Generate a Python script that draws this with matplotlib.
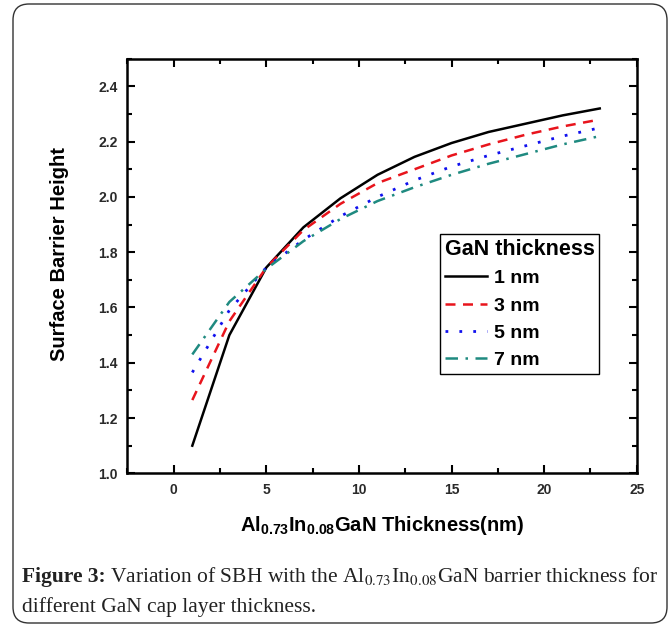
import matplotlib
matplotlib.use("Agg")
import matplotlib.pyplot as plt
from matplotlib.patches import FancyBboxPatch
from matplotlib.transforms import IdentityTransform
from matplotlib.ticker import MultipleLocator

# | Data |---------------------------------------------------------------------|
thickness = [1, 3, 5, 7, 9, 11, 13, 15, 17, 19, 21, 23]
sbh_1nm = [1.10, 1.50, 1.745, 1.89, 1.995, 2.08, 2.145, 2.195, 2.235, 2.265, 2.295, 2.32]
sbh_3nm = [1.265, 1.55, 1.745, 1.88, 1.975, 2.05, 2.10, 2.15, 2.19, 2.225, 2.255, 2.28]
sbh_5nm = [1.365, 1.59, 1.745, 1.845, 1.93, 2.00, 2.06, 2.11, 2.15, 2.185, 2.22, 2.25]
sbh_7nm = [1.43, 1.62, 1.74, 1.84, 1.92, 1.985, 2.035, 2.08, 2.12, 2.155, 2.19, 2.22]
series_labels = ["1 nm", "3 nm", "5 nm", "7 nm"]
x_ticks = [0, 5, 10, 15, 20, 25]
y_ticks = [1.0, 1.2, 1.4, 1.6, 1.8, 2.0, 2.2, 2.4]

plt.rcParams["font.family"] = ["Liberation Sans", "DejaVu Sans"]
plt.rcParams["mathtext.fontset"] = "custom"
plt.rcParams["mathtext.rm"] = "Liberation Sans:bold"
plt.rcParams["mathtext.default"] = "rm"

fig = plt.figure(figsize=(6.71, 6.28), dpi=100)
ax = fig.add_axes([0.190, 0.2463, 0.759, 0.6602])

styles = [
    dict(color="black", linestyle="-", linewidth=1.8),
    dict(color="#e8141c", linestyle=(0, (4, 3)), linewidth=1.8),
    dict(color="#1010ee", linestyle=(0, (1, 4)), linewidth=2.0),
    dict(color="#1f8a80", linestyle=(0, (5, 3, 1, 3)), linewidth=1.8),
]
for ys, lab, st in zip([sbh_1nm, sbh_3nm, sbh_5nm, sbh_7nm], series_labels, styles):
    ax.plot(thickness, ys, label=lab, **st)

ax.set_xlim(-2.5, 25)
ax.set_ylim(1.0, 2.5)
ax.set_xticks(x_ticks)
ax.set_yticks(y_ticks)
ax.set_xticklabels([str(t) for t in x_ticks])
ax.set_yticklabels(["%.1f" % t for t in y_ticks])
ax.xaxis.set_minor_locator(MultipleLocator(2.5))
ax.yaxis.set_minor_locator(MultipleLocator(0.1))
ax.tick_params(which="both", direction="in", top=True, right=True, width=1.5)
ax.tick_params(which="major", length=6)
ax.tick_params(which="minor", length=3.5)
ax.tick_params(axis="y", pad=7)
ax.tick_params(axis="x", pad=7)
for lbl in ax.get_xticklabels() + ax.get_yticklabels():
    lbl.set_fontweight("bold")
    lbl.set_fontsize(10)
    lbl.set_color("#2a2a2a")
for sp in ax.spines.values():
    sp.set_linewidth(1.8)

ax.set_ylabel("Surface Barrier Height", fontsize=14.5, fontweight="bold")
ax.yaxis.set_label_coords(-0.115, 0.529)
ax.set_xlabel(r"Al$_{0.73}$In$_{0.08}$GaN Thickness(nm)", fontsize=14.5, fontweight="bold")
ax.xaxis.set_label_coords(0.5, -0.098)

leg = ax.legend(loc="upper left", bbox_to_anchor=(0.613, 0.577), borderaxespad=0,
                title="GaN thickness", fancybox=False, edgecolor="black",
                framealpha=1, handlelength=2.2, handletextpad=0.35,
                borderpad=0.25, labelspacing=0.5, alignment="left",
                prop={"weight": "bold", "size": 14},
                title_fontproperties={"weight": "bold", "size": 15.5})
leg.get_frame().set_linewidth(1.0)

# rounded outer border
border = FancyBboxPatch((13, 5), 654, 619, boxstyle="round,pad=0,rounding_size=16",
                        transform=IdentityTransform(), facecolor="none",
                        edgecolor="#333333", linewidth=1.0)
fig.patches.append(border)

cap_size = 15.5
cap_y1 = 1 - 582 / 628
head = fig.text(22 / 671, cap_y1, "Figure 3:", fontsize=cap_size, fontweight="bold",
                family="Liberation Serif", va="baseline", ha="left", color="#222222")
renderer = fig.canvas.get_renderer()
bb = head.get_window_extent(renderer)
x_rest = (bb.x1 + 4) / 671
fig.text(x_rest, cap_y1,
         r"Variation of SBH with the Al$_{0.73}$In$_{0.08}$GaN barrier thickness for",
         fontsize=cap_size, family="Liberation Serif", math_fontfamily="stix",
         va="baseline", ha="left", color="#222222")
fig.text(22 / 671, 1 - 612 / 628, "different GaN cap layer thickness.", fontsize=cap_size,
         family="Liberation Serif", va="baseline", ha="left", color="#222222")

fig.savefig("out.png", dpi=100)
